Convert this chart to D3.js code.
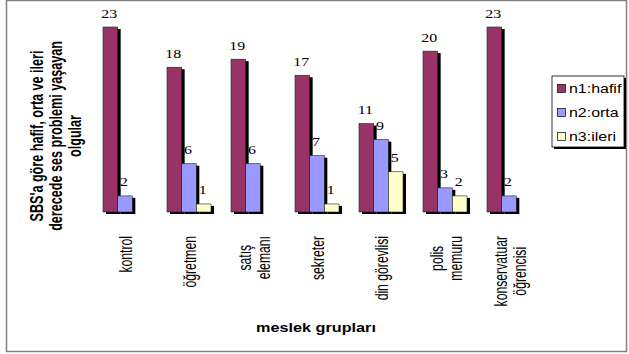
<!DOCTYPE html>
<html>
<head>
<meta charset="utf-8">
<script src="https://cdn.jsdelivr.net/npm/d3@7"></script>
<style>
  html, body { margin: 0; padding: 0; background: #fff; }
  svg { display: block; }
</style>
</head>
<body>
<svg id="chart" width="629" height="354"></svg>
<script>
// Occupational groups (x categories) and their label lines
const categories = ["kontrol", "öğretmen", "satış elemanı", "sekreter", "din görevlisi", "polis memuru", "konservatuar öğrencisi"];
const categoryLines = [["kontrol"], ["öğretmen"], ["satış", "elemanı"], ["sekreter"], ["din görevlisi"], ["polis", "memuru"], ["konservatuar", "öğrencisi"]];

// Series: number of cases per severity level (null = no bar)
const seriesKeys = ["n1", "n2", "n3"];
const seriesNames = ["n1:hafif", "n2:orta", "n3:ileri"];
const n1 = [23, 18, 19, 17, 11, 20, 23];
const n2 = [2, 6, 6, 7, 9, 3, 2];
const n3 = [null, 1, null, 1, 5, 2, null];
const seriesValues = [n1, n2, n3];
const seriesColors = ["#993366", "#9999FF", "#FFFFCC"];

const yTitleLines = ["SBS'a göre hafif, orta ve ileri", "derecede ses problemi yaşayan", "olgular"];
const xTitle = "meslek grupları";

const svg = d3.select("#chart");
const SX = 1.33;      // horizontal stretch of the lettering
const SX_ROT = 1.45;  // stretch for the rotated lettering
const sans = "'Liberation Sans', Arial, sans-serif";
const serif = "'Liberation Serif', 'Times New Roman', serif";

// outer frame
svg.append("rect")
  .attr("x", 6.5).attr("y", 0.5).attr("width", 620).attr("height", 351)
  .attr("fill", "#fff").attr("stroke", "#808080").attr("stroke-width", 1.5);

const x0 = d3.scaleBand().domain(categories).range([93, 541]);
const x1 = d3.scaleBand().domain(seriesKeys).range([10, 54]);
const y = d3.scaleLinear().domain([0, 23]).range([212, 27]);

const groups = svg.append("g").selectAll("g")
  .data(categories)
  .join("g")
  .attr("transform", d => `translate(${x0(d)},0)`);

groups.each(function (cat, ci) {
  const g = d3.select(this);
  seriesKeys.forEach((key, si) => {
    const v = seriesValues[si][ci];
    if (v == null) return;
    const bx = x1(key), bw = x1.bandwidth();
    // drop shadow
    g.append("rect")
      .attr("x", bx + 3).attr("y", y(v) + 2)
      .attr("width", bw).attr("height", y(0) - y(v))
      .attr("fill", "#000");
    // bar
    g.append("rect")
      .attr("x", bx).attr("y", y(v))
      .attr("width", bw).attr("height", y(0) - y(v))
      .attr("fill", seriesColors[si])
      .attr("stroke", "#222").attr("stroke-width", 0.6);
  });
  // value labels
  seriesKeys.forEach((key, si) => {
    const v = seriesValues[si][ci];
    if (v == null) return;
    const cx = x1(key) + x1.bandwidth() / 2 - 1;
    g.append("text")
      .attr("transform", `translate(${cx},${y(v) - 9.5}) scale(${SX},1)`)
      .attr("text-anchor", "middle")
      .attr("font-family", serif).attr("font-size", 12)
      .attr("fill", "#000")
      .text(v);
  });
});

// category labels, rotated, lines centred in a block that hangs below the bars
const labelG = svg.append("g");
categories.forEach((cat, ci) => {
  const lines = categoryLines[ci];
  const cx = x0(cat) + x0.bandwidth() / 2 + 1;
  const pitch = 19;
  const texts = lines.map((ln, li) => {
    const lx = cx + (li - (lines.length - 1) / 2) * pitch;
    return labelG.append("text")
      .attr("font-family", sans).attr("font-size", 12.2)
      .attr("text-anchor", "middle")
      .attr("dominant-baseline", "central")
      .attr("fill", "#000")
      .attr("data-x", lx)
      .text(ln);
  });
  const maxLen = d3.max(texts, t => t.node().getComputedTextLength());
  const cy = 236 + maxLen / 2;
  texts.forEach(t => {
    t.attr("transform", `translate(${t.attr("data-x")},${cy}) scale(${SX_ROT},1) rotate(-90)`);
  });
});

// x axis title
svg.append("text")
  .attr("transform", `translate(316,332) scale(${SX},1)`)
  .attr("text-anchor", "middle")
  .attr("font-family", sans).attr("font-size", 12.2).attr("font-weight", "bold")
  .attr("fill", "#000")
  .text(xTitle);

// y axis title
const yCenters = [36.5, 56, 75];
yTitleLines.forEach((ln, i) => {
  svg.append("text")
    .attr("transform", `translate(${yCenters[i]},136) scale(${SX_ROT},1) rotate(-90)`)
    .attr("text-anchor", "middle")
    .attr("dominant-baseline", "central")
    .attr("font-family", sans).attr("font-size", 12.6).attr("font-weight", "bold")
    .attr("fill", "#000")
    .text(ln);
});

// legend
const legend = svg.append("g");
legend.append("rect")
  .attr("x", 554).attr("y", 78).attr("width", 72).attr("height", 71)
  .attr("fill", "#000");
legend.append("rect")
  .attr("x", 552).attr("y", 76).attr("width", 72).attr("height", 71)
  .attr("fill", "#fff").attr("stroke", "#000").attr("stroke-width", 0.8);
const legendY = d3.scalePoint().domain(seriesKeys).range([89, 137]);
seriesKeys.forEach((key, i) => {
  const cy = legendY(key);
  legend.append("rect")
    .attr("x", 557.5).attr("y", cy - 4.5).attr("width", 8).attr("height", 8)
    .attr("fill", seriesColors[i]).attr("stroke", "#000").attr("stroke-width", 0.7);
  legend.append("text")
    .attr("transform", `translate(569,${cy + 4.3}) scale(${SX},1)`)
    .attr("font-family", sans).attr("font-size", 12)
    .attr("fill", "#000")
    .text(seriesNames[i]);
});
</script>
</body>
</html>
